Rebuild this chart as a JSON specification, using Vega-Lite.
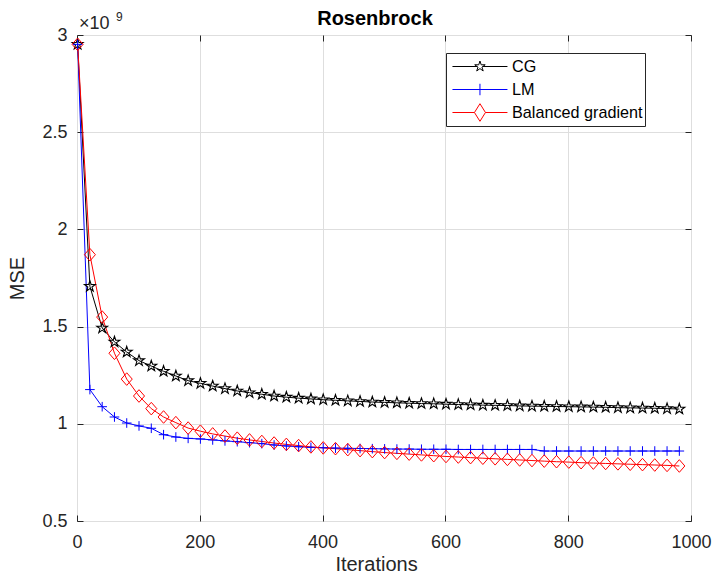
{
  "$schema": "https://vega.github.io/schema/vega-lite/v6.json",
  "width": 614,
  "height": 486,
  "autosize": {"type": "none"},
  "padding": {"left": 77, "top": 35, "right": 21, "bottom": 54},
  "background": "white",
  "title": {"text": "Rosenbrock", "fontSize": 20, "fontWeight": "bold", "font": "Liberation Sans", "color": "#000000", "baseline": "alphabetic", "offset": 9, "dx": -9, "dy": 43, "anchor": "middle", "frame": "group"},
  "layer": [
    {
      "data": {"name": "mse"},
      "transform": [{"fold": ["CG", "LM", "Balanced gradient"], "as": ["method", "mse"]}],
      "mark": {"type": "line", "strokeWidth": 1, "clip": false},
      "encoding": {
        "x": {"field": "iteration", "type": "quantitative", "scale": {"domain": [0, 1000], "nice": false},
          "axis": {"values": [0, 200, 400, 600, 800, 1000], "format": "d", "grid": true, "labelPadding": 18, "labelFlush": false, "labelOverlap": false, "title": "Iterations", "titleX": 299, "titleY": 49.5, "titleAlign": "center", "titleBaseline": "alphabetic"}},
        "y": {"field": "mse", "type": "quantitative", "scale": {"domain": [500000000, 3000000000], "nice": false, "zero": false},
          "axis": {"values": [500000000, 1000000000, 1500000000, 2000000000, 2500000000, 3000000000], "grid": true, "labelPadding": 16, "labelFlush": false, "labelOverlap": false, "labelExpr": "format(datum.value / 1e9, '~g')", "title": "MSE", "titleX": -54, "titleY": 243, "titleAngle": -90, "titleAlign": "center", "titleBaseline": "alphabetic"}},
        "color": {"field": "method", "type": "nominal",
          "scale": {"domain": ["CG", "LM", "Balanced gradient"], "range": ["#000000", "#0000ff", "#ff0000"]},
          "legend": {"title": null, "orient": "none", "legendX": 369, "legendY": 18, "padding": 2, "strokeColor": "#262626", "fillColor": "white", "labelFont": "Liberation Sans", "labelFontSize": 16.2, "labelColor": "#000000", "symbolSize": 484, "labelOffset": 41, "rowPadding": 3, "symbolStrokeWidth": 1, "symbolFillColor": "transparent",
            "labelExpr": "datum.label + '\u2003\u2002\u2009'",
            "encode": {"symbols": {"update": {
              "shape": {"signal": "datum.value === 'CG' ? 'M1.86,-0.5L1.972,-0.154L2.336,-0.155L2.041,0.059L2.154,0.405L1.86,0.19L1.566,0.405L1.679,0.059L1.384,-0.155L1.748,-0.154Z M-0.64,0H1.6 M2.12,0H4.36' : datum.value === 'LM' ? 'M-0.64,0H4.36 M1.86,-0.52V0.52' : 'M1.86,-0.8L2.36,0L1.86,0.8L1.36,0Z M-0.64,0H1.36 M2.36,0H4.36'"},
              "fill": {"value": "transparent"},
              "stroke": {"scale": "color", "field": "value"},
              "strokeWidth": {"value": 1},
              "size": {"value": 484},
              "opacity": {"value": 1}
            }}}
          }}
      }
    },
    {
      "data": {"name": "mse"},
      "transform": [{"fold": ["CG", "LM", "Balanced gradient"], "as": ["method", "mse"]}, {"filter": "datum.method === 'CG'"}],
      "mark": {"type": "point", "filled": false, "size": 144, "strokeWidth": 1.1, "opacity": 1, "clip": false,
        "shape": "M0,-0.95L0.217,-0.298L0.904,-0.294L0.351,0.114L0.558,0.769L0,0.369L-0.558,0.769L-0.351,0.114L-0.904,-0.294L-0.217,-0.298Z"},
      "encoding": {
        "x": {"field": "iteration", "type": "quantitative",
          "axis": {"orient": "top", "values": [0, 200, 400, 600, 800, 1000], "labels": false, "grid": false, "title": null}},
        "y": {"field": "mse", "type": "quantitative",
          "axis": {"orient": "right", "values": [500000000, 1000000000, 1500000000, 2000000000, 2500000000, 3000000000], "labels": false, "grid": false, "title": null}},
        "color": {"field": "method", "type": "nominal", "legend": null}
      }
    },
    {
      "data": {"name": "mse"},
      "transform": [{"fold": ["CG", "LM", "Balanced gradient"], "as": ["method", "mse"]}, {"filter": "datum.method === 'LM'"}],
      "mark": {"type": "point", "filled": false, "size": 144, "strokeWidth": 1, "opacity": 1, "clip": false,
        "shape": "M-0.8,0H0.8M0,-0.8V0.8"},
      "encoding": {
        "x": {"field": "iteration", "type": "quantitative", "axis": null},
        "y": {"field": "mse", "type": "quantitative", "axis": null},
        "color": {"field": "method", "type": "nominal", "legend": null}
      }
    },
    {
      "data": {"name": "mse"},
      "transform": [{"fold": ["CG", "LM", "Balanced gradient"], "as": ["method", "mse"]}, {"filter": "datum.method === 'Balanced gradient'"}],
      "mark": {"type": "point", "filled": false, "size": 144, "strokeWidth": 1, "opacity": 1, "clip": false,
        "shape": "M0,-1.05L0.92,0L0,1.05L-0.92,0Z"},
      "encoding": {
        "x": {"field": "iteration", "type": "quantitative", "axis": null},
        "y": {"field": "mse", "type": "quantitative", "axis": null},
        "color": {"field": "method", "type": "nominal", "legend": null}
      }
    },
    {
      "data": {"values": [{}]},
      "mark": {"type": "text", "text": "×10", "font": "Liberation Sans", "fontSize": 18, "color": "#262626", "align": "left", "baseline": "alphabetic", "dx": 2, "dy": -5.7},
      "encoding": {
        "x": {"datum": 0, "type": "quantitative", "axis": null},
        "y": {"datum": 3000000000, "type": "quantitative", "axis": null}
      }
    },
    {
      "data": {"values": [{}]},
      "mark": {"type": "text", "text": "9", "font": "Liberation Sans", "fontSize": 12, "color": "#262626", "align": "left", "baseline": "alphabetic", "dx": 39, "dy": -14.3},
      "encoding": {
        "x": {"datum": 0, "type": "quantitative", "axis": null},
        "y": {"datum": 3000000000, "type": "quantitative", "axis": null}
      }
    }
  ],
  "resolve": {"axis": {"x": "independent", "y": "independent"}},
  "datasets": {
    "mse": [
      {"iteration": 1, "CG": 2952000000, "LM": 2952000000, "Balanced gradient": 2952000000},
      {"iteration": 21, "CG": 1707000000, "LM": 1176000000, "Balanced gradient": 1870000000},
      {"iteration": 41, "CG": 1493000000, "LM": 1088000000, "Balanced gradient": 1549000000},
      {"iteration": 61, "CG": 1421000000, "LM": 1035000000, "Balanced gradient": 1363000000},
      {"iteration": 81, "CG": 1369000000, "LM": 1004000000, "Balanced gradient": 1230000000},
      {"iteration": 101, "CG": 1325000000, "LM": 989000000, "Balanced gradient": 1143000000},
      {"iteration": 121, "CG": 1297000000, "LM": 977000000, "Balanced gradient": 1078000000},
      {"iteration": 141, "CG": 1270000000, "LM": 944000000, "Balanced gradient": 1035000000},
      {"iteration": 161, "CG": 1246000000, "LM": 932000000, "Balanced gradient": 1006000000},
      {"iteration": 181, "CG": 1222000000, "LM": 925000000, "Balanced gradient": 978000000},
      {"iteration": 201, "CG": 1208000000, "LM": 922000000, "Balanced gradient": 962000000},
      {"iteration": 221, "CG": 1194000000, "LM": 917000000, "Balanced gradient": 948000000},
      {"iteration": 241, "CG": 1181000000, "LM": 912000000, "Balanced gradient": 937000000},
      {"iteration": 261, "CG": 1169000000, "LM": 908000000, "Balanced gradient": 926000000},
      {"iteration": 281, "CG": 1160000000, "LM": 903000000, "Balanced gradient": 917000000},
      {"iteration": 301, "CG": 1152000000, "LM": 898000000, "Balanced gradient": 909000000},
      {"iteration": 321, "CG": 1143000000, "LM": 891000000, "Balanced gradient": 901000000},
      {"iteration": 341, "CG": 1137000000, "LM": 886000000, "Balanced gradient": 894000000},
      {"iteration": 361, "CG": 1132000000, "LM": 882000000, "Balanced gradient": 888000000},
      {"iteration": 381, "CG": 1128000000, "LM": 879000000, "Balanced gradient": 881000000},
      {"iteration": 401, "CG": 1124000000, "LM": 877000000, "Balanced gradient": 876000000},
      {"iteration": 421, "CG": 1121000000, "LM": 875000000, "Balanced gradient": 872000000},
      {"iteration": 441, "CG": 1118000000, "LM": 874000000, "Balanced gradient": 867000000},
      {"iteration": 461, "CG": 1115000000, "LM": 873000000, "Balanced gradient": 862000000},
      {"iteration": 481, "CG": 1112000000, "LM": 872000000, "Balanced gradient": 857000000},
      {"iteration": 501, "CG": 1110000000, "LM": 871000000, "Balanced gradient": 852000000},
      {"iteration": 521, "CG": 1108000000, "LM": 870000000, "Balanced gradient": 848000000},
      {"iteration": 541, "CG": 1106000000, "LM": 870000000, "Balanced gradient": 844000000},
      {"iteration": 561, "CG": 1104000000, "LM": 869000000, "Balanced gradient": 840000000},
      {"iteration": 581, "CG": 1103000000, "LM": 869000000, "Balanced gradient": 836000000},
      {"iteration": 601, "CG": 1101000000, "LM": 869000000, "Balanced gradient": 832000000},
      {"iteration": 621, "CG": 1099000000, "LM": 868000000, "Balanced gradient": 829000000},
      {"iteration": 641, "CG": 1098000000, "LM": 868000000, "Balanced gradient": 826000000},
      {"iteration": 661, "CG": 1096000000, "LM": 868000000, "Balanced gradient": 823000000},
      {"iteration": 681, "CG": 1095000000, "LM": 868000000, "Balanced gradient": 820000000},
      {"iteration": 701, "CG": 1094000000, "LM": 868000000, "Balanced gradient": 817000000},
      {"iteration": 721, "CG": 1092000000, "LM": 868000000, "Balanced gradient": 814000000},
      {"iteration": 741, "CG": 1091000000, "LM": 868000000, "Balanced gradient": 811000000},
      {"iteration": 761, "CG": 1090000000, "LM": 860000000, "Balanced gradient": 808000000},
      {"iteration": 781, "CG": 1089000000, "LM": 860000000, "Balanced gradient": 805000000},
      {"iteration": 801, "CG": 1088000000, "LM": 860000000, "Balanced gradient": 803000000},
      {"iteration": 821, "CG": 1087000000, "LM": 860000000, "Balanced gradient": 800000000},
      {"iteration": 841, "CG": 1086000000, "LM": 860000000, "Balanced gradient": 798000000},
      {"iteration": 861, "CG": 1085000000, "LM": 860000000, "Balanced gradient": 796000000},
      {"iteration": 881, "CG": 1083000000, "LM": 860000000, "Balanced gradient": 794000000},
      {"iteration": 901, "CG": 1082000000, "LM": 860000000, "Balanced gradient": 792000000},
      {"iteration": 921, "CG": 1081000000, "LM": 860000000, "Balanced gradient": 790000000},
      {"iteration": 941, "CG": 1080000000, "LM": 860000000, "Balanced gradient": 788000000},
      {"iteration": 961, "CG": 1078000000, "LM": 860000000, "Balanced gradient": 786000000},
      {"iteration": 981, "CG": 1076000000, "LM": 860000000, "Balanced gradient": 783000000}
    ]
  },
  "config": {
    "font": "Liberation Sans",
    "view": {"stroke": "#262626", "strokeWidth": 1},
    "axis": {"labelFont": "Liberation Sans", "titleFont": "Liberation Sans", "labelColor": "#262626", "titleColor": "#262626", "tickColor": "#262626", "gridColor": "#dedede", "gridWidth": 1, "domain": false, "labelFontSize": 18, "titleFontSize": 20, "titleFontWeight": "normal", "tickSize": -6, "tickWidth": 1}
  }
}
